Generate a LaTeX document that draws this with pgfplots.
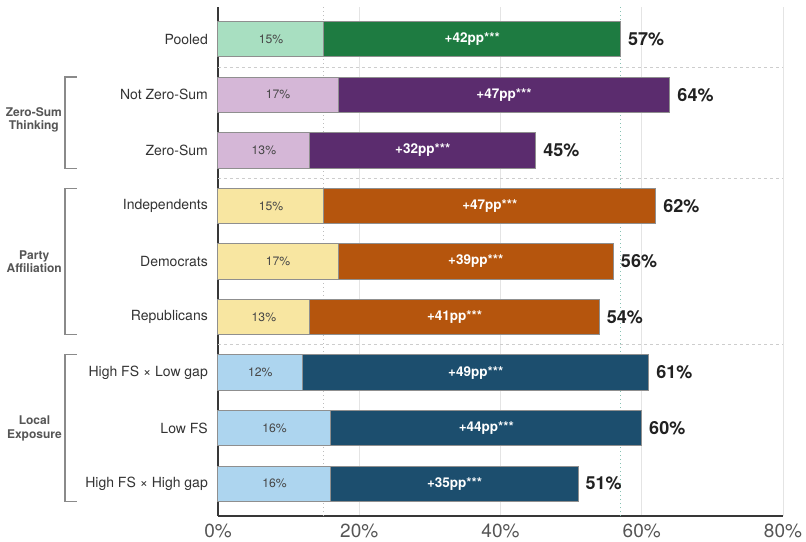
\documentclass[border=0pt]{standalone}
\usepackage{pgfplots}
\pgfplotsset{compat=1.18}
\usepackage{pgfplotstable}
\usepackage{fontspec}
\setmainfont{TeX Gyre Heros}

\definecolor{lgreen}{HTML}{A8DFC1}
\definecolor{dgreen}{HTML}{1E7B41}
\definecolor{lpurple}{HTML}{D5B7D7}
\definecolor{dpurple}{HTML}{5B2C6E}
\definecolor{lyellow}{HTML}{F8E6A1}
\definecolor{dorange}{HTML}{B5550D}
\definecolor{lblue}{HTML}{ADD5EF}
\definecolor{dblue}{HTML}{1C4E6E}
\definecolor{barline}{HTML}{8F8F8F}
\definecolor{gridc}{HTML}{E4E4E4}
\definecolor{sepc}{HTML}{CDCDCD}
\definecolor{dotgrey}{HTML}{BDBDBD}
\definecolor{dotteal}{HTML}{86C2B2}
\definecolor{labc}{HTML}{333333}
\definecolor{tickc}{HTML}{555555}
\definecolor{brackc}{HTML}{8A8A8A}

% pos: row position (8 = top), base: control share, diff: treatment effect (pp), total: treated share
\pgfplotstableread{
pos base diff total
8 15 42 57
}\pooled
\pgfplotstableread{
pos base diff total
7 17 47 64
6 13 32 45
}\zerosum
\pgfplotstableread{
pos base diff total
5 15 47 62
4 17 39 56
3 13 41 54
}\party
\pgfplotstableread{
pos base diff total
2 12 49 61
1 16 44 60
0 16 35 51
}\exposure

\pgfplotsset{
  dark bar/.style={xbar, bar width=35.5pt, draw=barline, line width=1pt,
    point meta=x,
    nodes near coords={\pgfmathprintnumber{\pgfplotspointmeta}\%},
    nodes near coords style={anchor=west, inner sep=0pt, xshift=7pt,
      font=\fontsize{18}{20}\selectfont\bfseries, text=black!87}},
  light bar/.style={xbar, bar width=35.5pt, draw=barline, line width=1pt},
  base lab/.style={only marks, mark=none, point meta=explicit,
    nodes near coords={\pgfmathprintnumber{\pgfplotspointmeta}\%},
    nodes near coords style={anchor=center, inner sep=0pt,
      font=\fontsize{12.2}{14}\selectfont, text=black!72}},
  pp lab/.style={only marks, mark=none, point meta=explicit,
    nodes near coords={+\pgfmathprintnumber{\pgfplotspointmeta}pp***},
    nodes near coords style={anchor=center, inner sep=0pt,
      font=\fontsize{13.5}{15}\selectfont\bfseries, text=white}},
  sep/.style={draw=sepc, line width=0.9pt, dash pattern=on 3pt off 3pt},
}
\tikzset{
  bracket/.style={draw=brackc, line width=1.2pt},
  grouplab/.style={anchor=east, align=center, inner sep=0pt, text=tickc,
    font=\fontsize{12}{13.5}\selectfont\bfseries},
  % thin white gap where the two segments of a bar meet
  seam/.style={draw=white, line width=1.3pt},
}

\begin{document}
\begin{tikzpicture}
\begin{axis}[
  at={(0pt,0pt)}, anchor=south west,
  scale only axis, width=565pt, height=509pt,
  xmin=0, xmax=80, ymin=-0.58, ymax=8.58,
  axis x line*=bottom, axis y line*=left,
  axis line style={draw=black!78, line width=1.2pt, -},
  major tick length=0pt,
  xtick={0,20,40,60,80},
  xticklabel={\pgfmathprintnumber{\tick}\%},
  /pgf/number format/assume math mode=true,
  xticklabel style={font=\fontsize{19}{20}\selectfont, text=tickc, inner sep=0pt, yshift=-8pt},
  ytick={0,1,2,3,4,5,6,7,8},
  yticklabels={High FS × High gap, Low FS, High FS × Low gap, Republicans, Democrats, Independents, Zero-Sum, Not Zero-Sum, Pooled},
  yticklabel style={font=\fontsize{14}{16}\selectfont, text=labc, inner sep=0pt, xshift=-10pt},
  xmajorgrids, grid style={draw=gridc, line width=0.9pt},
  clip=false,
]
% group separators and reference lines
\addplot[sep] coordinates {(0,7.5) (80,7.5)};
\addplot[sep] coordinates {(0,5.5) (80,5.5)};
\addplot[sep] coordinates {(0,2.5) (80,2.5)};
\addplot[draw=dotgrey, line width=0.9pt, dash pattern=on 1pt off 3pt] coordinates {(15,-0.58) (15,8.58)};
\addplot[draw=dotteal, line width=0.9pt, dash pattern=on 1pt off 3pt] coordinates {(57,-0.58) (57,8.58)};

% bars: treated total underneath, control share on top
\addplot[dark bar, fill=dgreen] table[x=total, y=pos] {\pooled};
\addplot[light bar, fill=lgreen] table[x=base, y=pos] {\pooled};
\addplot[dark bar, fill=dpurple] table[x=total, y=pos] {\zerosum};
\addplot[light bar, fill=lpurple] table[x=base, y=pos] {\zerosum};
\addplot[dark bar, fill=dorange] table[x=total, y=pos] {\party};
\addplot[light bar, fill=lyellow] table[x=base, y=pos] {\party};
\addplot[dark bar, fill=dblue] table[x=total, y=pos] {\exposure};
\addplot[light bar, fill=lblue] table[x=base, y=pos] {\exposure};

% segment labels
\addplot[base lab] table[x expr=\thisrow{base}/2, y=pos, meta=base] {\pooled};
\addplot[pp lab] table[x expr=\thisrow{base}+\thisrow{diff}/2, y=pos, meta=diff] {\pooled};
\addplot[base lab] table[x expr=\thisrow{base}/2, y=pos, meta=base] {\zerosum};
\addplot[pp lab] table[x expr=\thisrow{base}+\thisrow{diff}/2, y=pos, meta=diff] {\zerosum};
\addplot[base lab] table[x expr=\thisrow{base}/2, y=pos, meta=base] {\party};
\addplot[pp lab] table[x expr=\thisrow{base}+\thisrow{diff}/2, y=pos, meta=diff] {\party};
\addplot[base lab] table[x expr=\thisrow{base}/2, y=pos, meta=base] {\exposure};
\addplot[pp lab] table[x expr=\thisrow{base}+\thisrow{diff}/2, y=pos, meta=diff] {\exposure};

% group brackets
\draw[bracket] ([xshift=-141pt]axis cs:0,7.32) -- ([xshift=-153pt]axis cs:0,7.32)
  -- ([xshift=-153pt]axis cs:0,5.68) -- ([xshift=-141pt]axis cs:0,5.68);
\node[grouplab] at ([xshift=-156pt]axis cs:0,6.55) {Zero-Sum\\Thinking};
\draw[bracket] ([xshift=-141pt]axis cs:0,5.32) -- ([xshift=-153pt]axis cs:0,5.32)
  -- ([xshift=-153pt]axis cs:0,2.68) -- ([xshift=-141pt]axis cs:0,2.68);
\node[grouplab] at ([xshift=-156pt]axis cs:0,4) {Party\\Affiliation};
\draw[bracket] ([xshift=-141pt]axis cs:0,2.32) -- ([xshift=-153pt]axis cs:0,2.32)
  -- ([xshift=-153pt]axis cs:0,-0.32) -- ([xshift=-141pt]axis cs:0,-0.32);
\node[grouplab] at ([xshift=-156pt]axis cs:0,1) {Local\\Exposure};
\end{axis}
\pgfresetboundingbox
\path[use as bounding box] (-218pt,-25pt) rectangle (588pt,516pt);
\end{tikzpicture}
\end{document}
